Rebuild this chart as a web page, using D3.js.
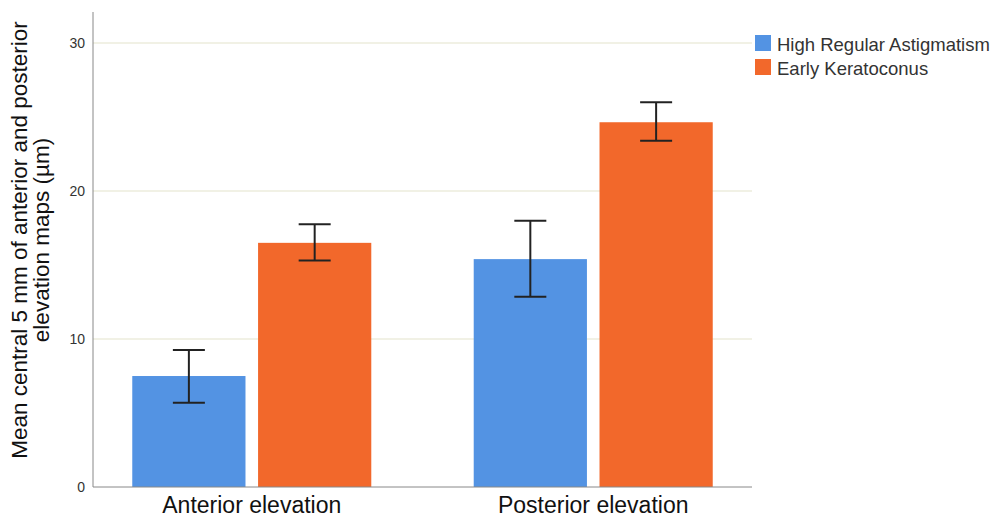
<!DOCTYPE html>
<html>
<head>
<meta charset="utf-8">
<script src="https://cdn.jsdelivr.net/npm/d3@7"></script>
<style>
  html, body { margin: 0; padding: 0; background: #fff; }
  svg { display: block; font-family: "Liberation Sans", Arial, sans-serif; }
</style>
</head>
<body>
<svg id="chart" width="996" height="519"></svg>
<script>
// Groups along the x axis and the two cohorts compared in each
const categories = ["Anterior elevation", "Posterior elevation"];
const seriesNames = ["High Regular Astigmatism", "Early Keratoconus"];

// Mean elevation (µm) per cohort, ordered as categories
const meanHRA = [7.5, 15.4];
const meanEK = [16.5, 24.65];

// Error bar limits (µm)
const lowHRA = [5.7, 12.85];
const highHRA = [9.25, 18.0];
const lowEK = [15.3, 23.4];
const highEK = [17.75, 26.0];

const yTicks = [0, 10, 20, 30];
const colors = ["#5393E3", "#F2682B"];

const rows = categories.map((c, i) => ({
  category: c,
  values: [
    { series: seriesNames[0], mean: meanHRA[i], lo: lowHRA[i], hi: highHRA[i] },
    { series: seriesNames[1], mean: meanEK[i], lo: lowEK[i], hi: highEK[i] }
  ]
}));

const svg = d3.select("#chart");
const plotLeft = 93, plotRight = 752, plotTop = 12, plotBottom = 487;

const y = d3.scaleLinear().domain([0, 32.1]).range([plotBottom, plotTop]);
const x0 = d3.scaleBand().domain(categories).range([plotLeft, plotRight])
  .paddingInner(0.3).paddingOuter(0.115);
const x1 = d3.scaleBand().domain(seriesNames).range([0, x0.bandwidth()])
  .paddingInner(0.1);
const color = d3.scaleOrdinal().domain(seriesNames).range(colors);

// Gridlines
svg.append("g")
  .selectAll("line")
  .data(yTicks.filter(t => t > 0))
  .join("line")
  .attr("x1", plotLeft).attr("x2", plotRight)
  .attr("y1", d => y(d)).attr("y2", d => y(d))
  .attr("stroke", "#EDEDDC").attr("stroke-width", 1.5);

// Bars
const groups = svg.append("g")
  .selectAll("g")
  .data(rows)
  .join("g")
  .attr("transform", d => `translate(${x0(d.category)},0)`);

groups.selectAll("rect")
  .data(d => d.values)
  .join("rect")
  .attr("x", d => x1(d.series))
  .attr("width", x1.bandwidth())
  .attr("y", d => y(d.mean))
  .attr("height", d => y(0) - y(d.mean))
  .attr("fill", d => color(d.series));

// Error bars
const capHalf = 16;
const err = groups.selectAll("g.err")
  .data(d => d.values)
  .join("g")
  .attr("class", "err")
  .attr("transform", d => `translate(${x1(d.series) + x1.bandwidth() / 2},0)`)
  .attr("stroke", "#222").attr("stroke-width", 2);
err.append("line").attr("x1", 0).attr("x2", 0)
  .attr("y1", d => y(d.lo)).attr("y2", d => y(d.hi));
err.append("line").attr("x1", -capHalf).attr("x2", capHalf)
  .attr("y1", d => y(d.hi)).attr("y2", d => y(d.hi));
err.append("line").attr("x1", -capHalf).attr("x2", capHalf)
  .attr("y1", d => y(d.lo)).attr("y2", d => y(d.lo));

// Y axis
const yAxis = svg.append("g")
  .attr("transform", `translate(${plotLeft},0)`)
  .call(d3.axisLeft(y).tickValues(yTicks).tickSize(0).tickPadding(8));
yAxis.select(".domain").attr("stroke", "#888").attr("d", `M0,${plotTop}V${plotBottom}`);
yAxis.selectAll("text").attr("font-size", 14).attr("fill", "#333")
  .attr("font-family", "Liberation Sans, Arial, sans-serif");

// X axis
const xAxis = svg.append("g")
  .attr("transform", `translate(0,${plotBottom})`)
  .call(d3.axisBottom(x0).tickSize(0).tickPadding(10));
xAxis.select(".domain").attr("stroke", "#888").attr("d", `M${plotLeft},0H${plotRight}`);
xAxis.selectAll("text").attr("font-size", 23).attr("fill", "#111")
  .attr("font-family", "Liberation Sans, Arial, sans-serif");

// Y axis title
const title = svg.append("text")
  .attr("transform", "translate(0,240) rotate(-90)")
  .attr("text-anchor", "middle")
  .attr("font-size", 22.5)
  .attr("fill", "#111");
title.append("tspan").attr("x", 0).attr("y", 27)
  .text("Mean central 5 mm of anterior and posterior");
title.append("tspan").attr("x", 0).attr("y", 49)
  .text("elevation maps (µm)");

// Legend
const legend = svg.append("g").attr("transform", "translate(755,35)");
const item = legend.selectAll("g")
  .data(seriesNames)
  .join("g")
  .attr("transform", (d, i) => `translate(0,${i * 24})`);
item.append("rect").attr("width", 16).attr("height", 16)
  .attr("fill", d => color(d));
item.append("text").attr("x", 22).attr("y", 16)
  .attr("font-size", 18.5).attr("fill", "#333")
  .text(d => d);
</script>
</body>
</html>
